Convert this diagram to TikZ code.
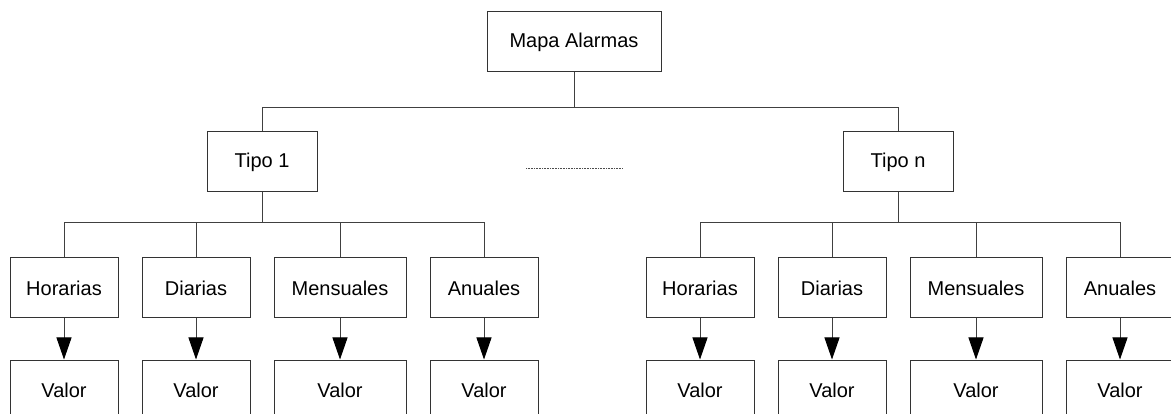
\documentclass[tikz,border=0pt]{standalone}
\usepackage{fontspec}
\setmainfont{Liberation Sans}
\usetikzlibrary{arrows.meta}
\begin{document}
\begin{tikzpicture}[x=1pt,y=-1pt,
  box/.style={draw=black!80, line width=1pt, fill=white, minimum height=60pt,
    inner sep=0pt, font=\fontsize{20}{24}\selectfont},
  link/.style={draw=black!75, line width=1pt},
  arrowlink/.style={link, -{Triangle[width=15pt,length=22pt,color=black]}}]
\clip (0,0) rectangle (1171,414);
\fill[white] (0,0) rectangle (1171,414);

% root and the two types
\node[box, minimum width=174pt] (mapa) at (574,42) {Mapa Alarmas};
\node[box, minimum width=110pt] (t1) at (262,162) {Tipo 1};
\node[box, minimum width=110pt] (tn) at (898,162) {Tipo n};

% periods of each type
\foreach \p/\x/\w/\t in {h1/64/108/Horarias, d1/196/108/Diarias, m1/340/132/Mensuales, a1/484/108/Anuales,
                         hn/700/108/Horarias, dn/832/108/Diarias, mn/976/132/Mensuales, an/1120/108/Anuales}{
  \node[box, minimum width=\w pt] (\p) at (\x,288) {\t};
  \node[box, minimum width=\w pt] (v\p) at (\x,390) {Valor};
  \draw[arrowlink] (\p.south) -- (v\p.north);
}

% tree connectors
\draw[link] (mapa.south) -- ++(0,35) coordinate (j0);
\draw[link] (t1.north) |- (j0) -| (tn.north);

\draw[link] (t1.south) -- ++(0,30) coordinate (j1);
\draw[link] (h1.north) |- (j1) -| (a1.north);
\draw[link] (d1.north) -- (d1.north |- j1);
\draw[link] (m1.north) -- (m1.north |- j1);

\draw[link] (tn.south) -- ++(0,30) coordinate (jn);
\draw[link] (hn.north) |- (jn) -| (an.north);
\draw[link] (dn.north) -- (dn.north |- jn);
\draw[link] (mn.north) -- (mn.north |- jn);

% ellipsis between the types
\draw[black!70, line width=0.8pt, dash pattern=on 0.8pt off 0.8pt] (526,168) -- (623,168);
\end{tikzpicture}
\end{document}
